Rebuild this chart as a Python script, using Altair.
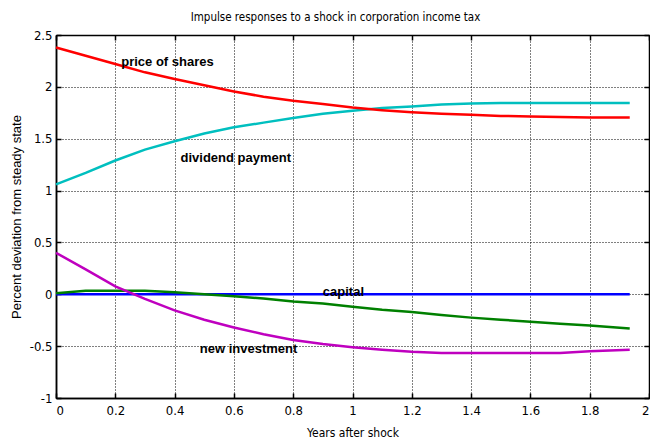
import altair as alt
import pandas as pd

# ---- data ----
years = [0.0, 0.1, 0.2, 0.3, 0.4, 0.5, 0.6, 0.7, 0.8, 0.9, 1.0, 1.1, 1.2, 1.3, 1.4, 1.5, 1.6, 1.7, 1.8, 1.935]
price_of_shares = [2.38, 2.30, 2.22, 2.14, 2.075, 2.015, 1.955, 1.905, 1.865, 1.835, 1.80, 1.775, 1.755, 1.74, 1.73, 1.72, 1.715, 1.71, 1.705, 1.705]
dividend_payment = [1.06, 1.17, 1.29, 1.395, 1.475, 1.55, 1.61, 1.655, 1.70, 1.74, 1.77, 1.795, 1.81, 1.83, 1.84, 1.845, 1.845, 1.845, 1.845, 1.845]
capital = [0.01, 0.035, 0.035, 0.035, 0.02, 0.0, -0.02, -0.04, -0.07, -0.09, -0.12, -0.15, -0.17, -0.20, -0.225, -0.245, -0.265, -0.285, -0.30, -0.33]
new_investment = [0.40, 0.24, 0.077, -0.045, -0.155, -0.245, -0.32, -0.385, -0.44, -0.48, -0.51, -0.535, -0.555, -0.565, -0.565, -0.565, -0.565, -0.565, -0.55, -0.535]
steady_state = [0.0] * len(years)

series_names = ["steady state", "capital", "new investment", "dividend payment", "price of shares"]
series_colors = ["#0000ff", "#008000", "#bf00bf", "#00bfbf", "#ff0000"]

label_texts = ["price of shares", "dividend payment", "capital", "new investment"]
label_x = [0.22, 0.42, 0.90, 0.485]
label_y = [2.24, 1.31, 0.02, -0.53]

x_ticks = [0, 0.2, 0.4, 0.6, 0.8, 1.0, 1.2, 1.4, 1.6, 1.8, 2.0]
y_ticks = [-1, -0.5, 0, 0.5, 1, 1.5, 2, 2.5]

rows = []
for name, vals in zip(series_names, [steady_state, capital, new_investment, dividend_payment, price_of_shares]):
    for i, (x, y) in enumerate(zip(years, vals)):
        rows.append({"series": name, "years": x, "value": y, "order": i})
df = pd.DataFrame(rows)
labels_df = pd.DataFrame({"text": label_texts, "x": label_x, "y": label_y})

W, H = 593, 363
FONT = "DejaVu Sans Condensed, Liberation Sans"
lab_expr = "replace(format(datum.value, '~g'), '\u2212', '-')"

xscale = alt.Scale(domain=[0, 2], nice=False, zero=False)
yscale = alt.Scale(domain=[-1, 2.5], nice=False, zero=False)

x_main = alt.X("years:Q", scale=xscale, title="Years after shock",
               axis=alt.Axis(values=x_ticks, labelExpr=lab_expr, grid=True, gridColor="black",
                             gridDash=[1, 2], gridWidth=1, gridOpacity=1, ticks=False,
                             domain=True, domainColor="black", domainWidth=1.5,
                             labelFont=FONT, labelFontSize=13, labelColor="black", labelPadding=6,
                             titleFont=FONT, titleFontSize=12, titleFontWeight="normal",
                             titleColor="black", titlePadding=10))
y_main = alt.Y("value:Q", scale=yscale, title="Percent deviation from steady state",
               axis=alt.Axis(values=y_ticks, labelExpr=lab_expr, grid=True, gridColor="black",
                             gridDash=[1, 2], gridWidth=1, gridOpacity=1, ticks=False,
                             domain=True, domainColor="black", domainWidth=1.5,
                             labelFont=FONT, labelFontSize=13, labelColor="black", labelPadding=4,
                             titleFont="Liberation Sans", titleFontSize=13, titleFontWeight="normal",
                             titleColor="black", titlePadding=6))

lines = alt.Chart(df).mark_line(strokeWidth=2.5).encode(
    x=x_main, y=y_main,
    color=alt.Color("series:N", scale=alt.Scale(domain=series_names, range=series_colors), legend=None),
    order="order:Q",
)


def ax(orient, offset, vals):
    return alt.Axis(orient=orient, offset=offset, values=vals, labels=False, title=None, grid=False,
                    ticks=True, tickSize=5, tickColor="black", tickWidth=1.5,
                    domain=True, domainColor="black", domainWidth=1.5)

# inward ticks on bottom & left edges (axes placed on the opposite edge)
ticks_a = alt.Chart(df).mark_line(opacity=0).encode(
    x=alt.X("years:Q", scale=xscale, axis=ax("top", -H, x_ticks)),
    y=alt.Y("value:Q", scale=yscale, axis=ax("right", -W, y_ticks)),
    detail="series:N",
)
# inward ticks on top & right edges
ticks_b = alt.Chart(df).mark_line(opacity=0).encode(
    x=alt.X("years:Q", scale=xscale, axis=ax("bottom", -H, x_ticks)),
    y=alt.Y("value:Q", scale=yscale, axis=ax("left", -W, y_ticks)),
    detail="series:N",
)

texts = alt.Chart(labels_df).mark_text(align="left", baseline="middle", font="Liberation Sans",
                                        fontSize=13, fontWeight="bold", color="black").encode(
    x=alt.X("x:Q", scale=xscale, axis=None),
    y=alt.Y("y:Q", scale=yscale, axis=None),
    text="text:N",
)

chart = alt.layer(lines, texts, ticks_a, ticks_b).resolve_axis(x="independent", y="independent").properties(
    width=W, height=H,
    autosize=alt.AutoSizeParams(type="none"),
    padding={"left": 56, "top": 35, "right": 1, "bottom": 43},
    title=alt.TitleParams("Impulse responses to a shock in corporation income tax", font=FONT,
                          fontSize=11.5, fontWeight="normal", color="black", anchor="middle",
                          dx=-17, offset=6),
).configure_view(stroke=None).configure(background="white")

chart.save("out.html", embed_options={"renderer": "svg", "actions": False})
